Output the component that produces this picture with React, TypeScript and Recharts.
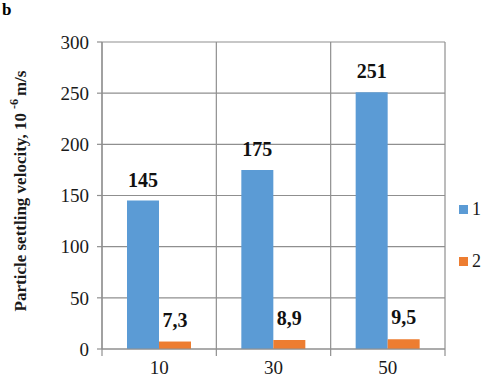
import { Bar, BarChart, CartesianGrid, LabelList, XAxis, YAxis } from "recharts";

const categories = ["10", "30", "50"];
const series1 = [145, 175, 251];
const series2 = [7.3, 8.9, 9.5];
const yTicks = [0, 50, 100, 150, 200, 250, 300];
const seriesNames = ["1", "2"];

const data = categories.map((c, i) => ({ cat: c, s1: series1[i], s2: series2[i] }));

const FONT = '"Liberation Serif", "Times New Roman", serif';
const GRID = "#8f8f8f";
const BLUE = "#5b9bd5";
const ORANGE = "#ed7d31";
const colors = [BLUE, ORANGE];

const W = 482;
const H = 379;
const M = { top: 42, right: 37, left: 0, bottom: 0 };
const Y_AXIS_W = 102;
const X_AXIS_H = 30;
const plotLeft = M.left + Y_AXIS_W;
const plotWidth = W - plotLeft - M.right;
const plotBottom = H - M.bottom - X_AXIS_H;
const band = plotWidth / categories.length;

const fmt = (v: number) => String(v).replace(".", ",");

function XTick(props: any) {
  const { x, payload, index } = props;
  const left = x - band / 2;
  return (
    <g>
      <line x1={left} x2={left} y1={plotBottom} y2={plotBottom + 7} stroke={GRID} strokeWidth={1.2} />
      {index === categories.length - 1 && (
        <line x1={left + band} x2={left + band} y1={plotBottom} y2={plotBottom + 7} stroke={GRID} strokeWidth={1.2} />
      )}
      <text x={x} y={plotBottom + 25} textAnchor="middle" fontSize={19} fill="#1a1a1a" fontFamily={FONT}>
        {payload.value}
      </text>
    </g>
  );
}

export default function App() {
  return (
    <div style={{ position: "absolute", left: 0, top: 0, width: W, height: H, background: "#fff", fontFamily: FONT }}>
      <div style={{ position: "absolute", left: 2, top: 1, fontSize: 17, lineHeight: "17px", fontWeight: "bold", fontFamily: FONT }}>
        b
      </div>
      <div style={{ position: "absolute", left: 459, top: 183, fontSize: 18, color: "#1a1a1a", fontFamily: FONT }}>
        {seriesNames.map((n, i) => (
          <div key={n} style={{ display: "flex", alignItems: "center", height: 52 }}>
            <span style={{ width: 9, height: 9, background: colors[i], marginRight: 4, display: "inline-block" }} />
            <span>{n}</span>
          </div>
        ))}
      </div>
      <BarChart
        width={W}
        height={H}
        data={data}
        margin={M}
        barGap={0}
        barCategoryGap={25}
        style={{ fontFamily: FONT }}
      >
        <CartesianGrid
          stroke={GRID}
          strokeWidth={1.2}
          verticalCoordinatesGenerator={() => [0, 1, 2, 3].map((i) => plotLeft + i * band)}
        />
        <XAxis
          dataKey="cat"
          height={X_AXIS_H}
          tickLine={false}
          axisLine={{ stroke: GRID, strokeWidth: 1.2 }}
          tick={<XTick />}
          interval={0}
        />
        <YAxis
          width={Y_AXIS_W}
          domain={[0, 300]}
          ticks={yTicks}
          tickSize={5}
          tickMargin={8}
          tickLine={{ stroke: GRID, strokeWidth: 1.2 }}
          axisLine={{ stroke: GRID, strokeWidth: 1.2 }}
          tick={{ fontSize: 19, fill: "#1a1a1a", fontFamily: FONT }}
          label={{
            content: () => (
              <text
                x={20}
                y={191}
                transform="rotate(-90, 20, 191)"
                textAnchor="middle"
                dominantBaseline="central"
                fontSize={17}
                fontWeight="bold"
                fontFamily={FONT}
                fill="#1a1a1a"
              >
                Particle settling velocity, 10
                <tspan dx={4} dy={-6} fontSize={12}>
                  -6
                </tspan>
                <tspan dx={3} dy={6}>
                  m/s
                </tspan>
              </text>
            ),
          }}
        />
        <Bar dataKey="s1" name={seriesNames[0]} fill={BLUE} isAnimationActive={false}>
          <LabelList
            dataKey="s1"
            position="top"
            offset={14}
            formatter={fmt}
            style={{ fontSize: 20, fontWeight: "bold", fill: "#111", fontFamily: FONT }}
          />
        </Bar>
        <Bar dataKey="s2" name={seriesNames[1]} fill={ORANGE} isAnimationActive={false}>
          <LabelList
            dataKey="s2"
            position="top"
            offset={15}
            formatter={fmt}
            style={{ fontSize: 20, fontWeight: "bold", fill: "#111", fontFamily: FONT }}
          />
        </Bar>
      </BarChart>
    </div>
  );
}
